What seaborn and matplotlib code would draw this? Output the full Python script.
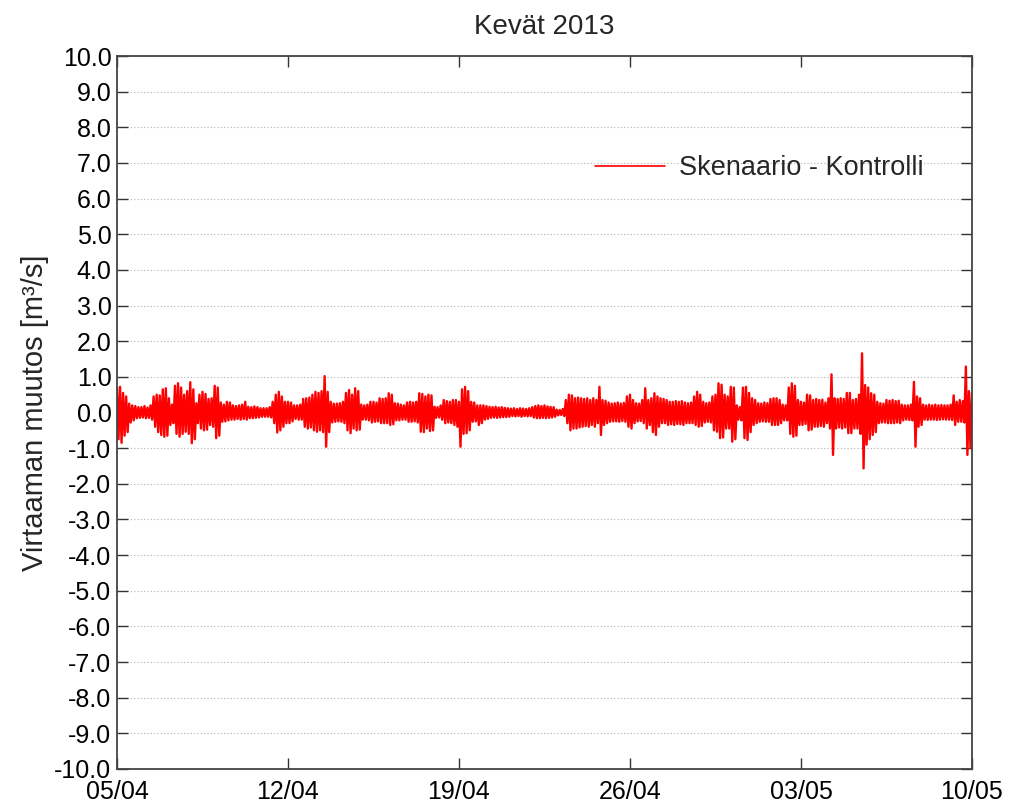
import numpy as np
import pandas as pd
import matplotlib
matplotlib.use("Agg")
import matplotlib.pyplot as plt
import seaborn as sns

# Flow change envelope (scenario minus control), sampled every 3 hours
# from 05/04 (day 0) to 10/05 (day 35): upper and lower excursions, m3/s.
upper = [
    0.70, 0.72, 0.55, 0.45, 0.25, 0.20, 0.18, 0.15,   # day 0
    0.15, 0.18, 0.14, 0.20, 0.45, 0.50, 0.48, 0.65,   # day 1
    0.68, 0.40, 0.22, 0.75, 0.82, 0.70, 0.50, 0.60,   # day 2
    0.85, 0.65, 0.26, 0.50, 0.58, 0.52, 0.38, 0.40,   # day 3
    0.75, 0.70, 0.28, 0.22, 0.30, 0.28, 0.20, 0.18,   # day 4
    0.20, 0.22, 0.30, 0.16, 0.15, 0.17, 0.15, 0.12,   # day 5
    0.12, 0.12, 0.15, 0.30, 0.50, 0.58, 0.45, 0.30,   # day 6
    0.30, 0.28, 0.20, 0.20, 0.22, 0.38, 0.40, 0.42,   # day 7
    0.50, 0.58, 0.55, 0.60, 1.02, 0.58, 0.30, 0.25,   # day 8
    0.25, 0.26, 0.30, 0.55, 0.63, 0.50, 0.68, 0.60,   # day 9
    0.22, 0.20, 0.22, 0.30, 0.30, 0.28, 0.40, 0.38,   # day 10
    0.40, 0.54, 0.50, 0.26, 0.25, 0.22, 0.20, 0.28,   # day 11
    0.30, 0.28, 0.30, 0.54, 0.52, 0.45, 0.50, 0.48,   # day 12
    0.16, 0.15, 0.20, 0.35, 0.32, 0.30, 0.35, 0.35,   # day 13
    0.30, 0.65, 0.72, 0.60, 0.30, 0.28, 0.20, 0.20,   # day 14
    0.20, 0.18, 0.16, 0.15, 0.16, 0.14, 0.15, 0.13,   # day 15
    0.12, 0.11, 0.12, 0.10, 0.12, 0.11, 0.10, 0.12,   # day 16
    0.15, 0.18, 0.20, 0.18, 0.20, 0.17, 0.16, 0.15,   # day 17
    0.08, 0.07, 0.10, 0.35, 0.50, 0.48, 0.40, 0.42,   # day 18
    0.40, 0.38, 0.40, 0.35, 0.40, 0.35, 0.72, 0.35,   # day 19
    0.33, 0.28, 0.25, 0.26, 0.28, 0.25, 0.27, 0.45,   # day 20
    0.50, 0.35, 0.26, 0.25, 0.35, 0.68, 0.35, 0.40,   # day 21
    0.54, 0.45, 0.40, 0.38, 0.35, 0.30, 0.30, 0.32,   # day 22
    0.30, 0.32, 0.28, 0.26, 0.28, 0.45, 0.58, 0.50,   # day 23
    0.30, 0.26, 0.28, 0.45, 0.50, 0.82, 0.78, 0.50,   # day 24
    0.45, 0.72, 0.70, 0.20, 0.15, 0.70, 0.72, 0.55,   # day 25
    0.40, 0.35, 0.26, 0.25, 0.28, 0.26, 0.38, 0.40,   # day 26
    0.40, 0.35, 0.22, 0.20, 0.70, 0.82, 0.75, 0.35,   # day 27
    0.30, 0.28, 0.50, 0.48, 0.35, 0.38, 0.35, 0.36,   # day 28
    0.28, 0.40, 1.07, 0.40, 0.38, 0.40, 0.38, 0.55,   # day 29
    0.55, 0.35, 0.38, 0.50, 1.66, 0.77, 0.70, 0.54,   # day 30
    0.50, 0.30, 0.26, 0.25, 0.35, 0.33, 0.35, 0.32,   # day 31
    0.33, 0.22, 0.20, 0.20, 0.22, 0.86, 0.45, 0.40,   # day 32
    0.22, 0.20, 0.22, 0.20, 0.22, 0.20, 0.21, 0.20,   # day 33
    0.20, 0.22, 0.48, 0.30, 0.35, 0.32, 1.29, 0.60,   # day 34
    0.55,                                             # day 35
]
lower = [
    -0.75, -0.85, -0.65, -0.55, -0.28, -0.22, -0.16, -0.15,
    -0.14, -0.16, -0.15, -0.20, -0.40, -0.55, -0.63, -0.68,
    -0.65, -0.35, -0.30, -0.60, -0.68, -0.60, -0.54, -0.60,
    -0.86, -0.75, -0.30, -0.45, -0.50, -0.48, -0.35, -0.40,
    -0.72, -0.65, -0.26, -0.25, -0.22, -0.20, -0.20, -0.18,
    -0.20, -0.18, -0.20, -0.16, -0.16, -0.15, -0.14, -0.12,
    -0.12, -0.12, -0.14, -0.30, -0.56, -0.50, -0.40, -0.30,
    -0.30, -0.25, -0.18, -0.20, -0.20, -0.40, -0.45, -0.42,
    -0.50, -0.54, -0.50, -0.55, -0.96, -0.55, -0.28, -0.26,
    -0.25, -0.26, -0.30, -0.50, -0.58, -0.45, -0.50, -0.48,
    -0.20, -0.20, -0.22, -0.28, -0.26, -0.25, -0.30, -0.30,
    -0.30, -0.35, -0.33, -0.22, -0.22, -0.20, -0.20, -0.26,
    -0.26, -0.25, -0.28, -0.54, -0.55, -0.45, -0.52, -0.50,
    -0.15, -0.14, -0.20, -0.30, -0.28, -0.30, -0.35, -0.40,
    -0.96, -0.60, -0.58, -0.50, -0.26, -0.25, -0.35, -0.30,
    -0.20, -0.18, -0.15, -0.14, -0.15, -0.14, -0.13, -0.13,
    -0.12, -0.10, -0.11, -0.10, -0.12, -0.10, -0.11, -0.10,
    -0.14, -0.16, -0.16, -0.15, -0.16, -0.15, -0.14, -0.12,
    -0.08, -0.07, -0.10, -0.30, -0.50, -0.45, -0.45, -0.42,
    -0.40, -0.38, -0.40, -0.35, -0.40, -0.30, -0.63, -0.35,
    -0.30, -0.26, -0.25, -0.25, -0.26, -0.24, -0.26, -0.40,
    -0.45, -0.30, -0.25, -0.24, -0.30, -0.45, -0.35, -0.55,
    -0.63, -0.40, -0.30, -0.30, -0.35, -0.33, -0.35, -0.32,
    -0.33, -0.35, -0.30, -0.30, -0.30, -0.35, -0.40, -0.38,
    -0.28, -0.26, -0.28, -0.50, -0.54, -0.72, -0.70, -0.45,
    -0.45, -0.82, -0.75, -0.20, -0.22, -0.72, -0.77, -0.55,
    -0.35, -0.30, -0.26, -0.25, -0.26, -0.26, -0.35, -0.35,
    -0.35, -0.30, -0.22, -0.22, -0.60, -0.68, -0.65, -0.35,
    -0.35, -0.32, -0.50, -0.48, -0.40, -0.40, -0.38, -0.40,
    -0.30, -0.45, -1.19, -0.45, -0.42, -0.45, -0.42, -0.58,
    -0.58, -0.45, -0.45, -0.60, -1.57, -0.90, -0.75, -0.63,
    -0.55, -0.30, -0.28, -0.28, -0.30, -0.30, -0.30, -0.28,
    -0.30, -0.22, -0.20, -0.21, -0.22, -0.96, -0.40, -0.35,
    -0.20, -0.21, -0.20, -0.20, -0.21, -0.20, -0.19, -0.20,
    -0.20, -0.21, -0.35, -0.26, -0.26, -0.28, -1.19, -1.00,
    -0.50,
]

step_days = 0.125
date_labels = ["05/04", "12/04", "19/04", "26/04", "03/05", "10/05"]
date_ticks = [0, 7, 14, 21, 28, 35]
y_ticks = list(np.arange(-10, 10.5, 1.0))

title = "Kevät 2013"
ylabel = "Virtaaman muutos [m³/s]"
series_name = "Skenaario - Kontrolli"

# Oscillating series: each 3-hour slot swings to its upper then lower value
t_up = np.arange(len(upper)) * step_days
t_lo = t_up + step_days / 2
t = np.column_stack([t_up, t_lo]).ravel()
v = np.column_stack([upper, lower]).ravel()
df = pd.DataFrame({"day": t, "flow": v, "series": series_name})

sns.set_theme(style="ticks")
plt.rcParams["font.family"] = ["Liberation Sans", "DejaVu Sans"]

fig = plt.figure(figsize=(10.11, 8.07), dpi=100)
ax = fig.add_axes([0.1157, 0.0471, 0.8457, 0.8835])

sns.lineplot(data=df, x="day", y="flow", hue="series", palette=["#ff0000"],
             estimator=None, sort=False, linewidth=1.7, ax=ax)

ax.set_xlim(0, 35)
ax.set_ylim(-10, 10)
ax.set_yticks(y_ticks)
ax.set_yticklabels([f"{y:.1f}" for y in y_ticks])
ax.set_xticks(date_ticks)
ax.set_xticklabels(date_labels)

ax.yaxis.grid(True, linestyle=(0, (1, 2)), color="#b0b0b0", linewidth=0.8)
ax.xaxis.grid(False)

ax.tick_params(axis="both", which="major", direction="in", length=8,
               width=1.0, color="#333333",
               top=True, right=True, labelcolor="black")
ax.tick_params(axis="y", labelsize=18, pad=4)
ax.tick_params(axis="x", labelsize=18, pad=8)
for s in ax.spines.values():
    s.set_visible(True)
    s.set_color("#444444")
    s.set_linewidth(1.3)

ax.set_xlabel("")
ax.set_ylabel(ylabel, fontsize=21, labelpad=4)
ax.set_title(title, fontsize=20, pad=16)

leg = ax.legend(loc="upper right", bbox_to_anchor=(0.972, 0.895), frameon=False,
                fontsize=19.5, handlelength=2.6, handletextpad=0.5)
for line in leg.get_lines():
    line.set_linewidth(1.2)

fig.savefig("out.png", dpi=100, facecolor="white")
